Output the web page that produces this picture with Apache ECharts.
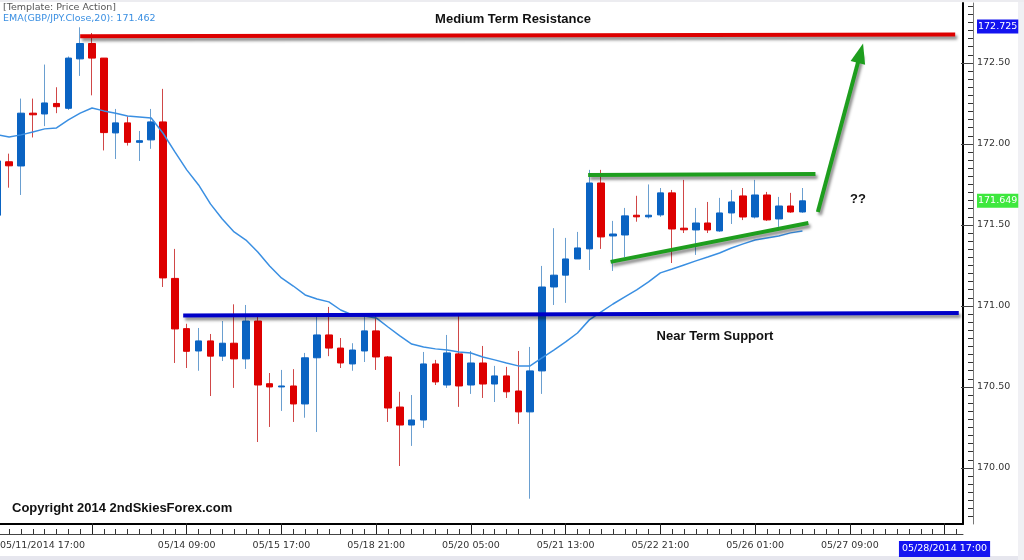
<!DOCTYPE html>
<html><head><meta charset="utf-8">
<script src="https://cdn.jsdelivr.net/npm/echarts@6/dist/echarts.min.js"></script>
<style>html,body{margin:0;padding:0;background:#fff}#c{width:1024px;height:560px}</style>
</head><body><div id="c"></div>
<script>
// GBP/JPY 4-hour candles (bar index 0 = 05/11/2014 17:00)
const opens  = [171.56,171.89,171.864,172.19,172.185,172.25,172.22,172.525,172.62,172.53,172.068,172.13,172.01,172.025,172.136,171.17,170.86,170.722,170.784,170.69,170.77,170.673,170.907,170.52,170.50,170.506,170.395,170.68,170.821,170.74,170.642,170.722,170.846,170.685,170.376,170.265,170.296,170.642,170.512,170.704,170.512,170.648,170.518,170.568,170.475,170.346,170.599,171.117,171.19,171.29,171.352,171.759,171.432,171.438,171.56,171.55,171.562,171.698,171.48,171.469,171.512,171.463,171.574,171.679,171.549,171.685,171.537,171.617,171.58];
const highs  = [171.93,171.94,172.28,172.28,172.49,172.35,172.54,172.72,172.685,172.53,172.216,172.17,172.08,172.216,172.34,171.352,170.89,170.864,170.827,170.907,171.01,171.006,170.932,170.586,170.605,170.61,170.71,170.932,170.994,170.802,170.77,170.944,170.944,170.69,170.47,170.45,170.716,170.667,170.821,170.944,170.722,170.753,170.63,170.624,170.722,170.747,171.247,171.48,171.42,171.457,171.84,171.84,171.525,171.605,171.68,171.75,171.728,171.716,171.778,171.605,171.642,171.667,171.716,171.728,171.778,171.704,171.673,171.698,171.728];
const lows   = [171.53,171.73,171.685,172.04,172.11,172.19,172.21,172.42,172.30,171.96,171.907,171.99,171.895,171.97,171.117,170.648,170.617,170.60,170.444,170.66,170.494,170.611,170.16,170.253,170.352,170.284,170.31,170.222,170.69,170.617,170.60,170.654,170.605,170.284,170.012,170.136,170.247,170.512,170.494,170.377,170.457,170.432,170.407,170.432,170.272,169.81,170.457,171.006,171.019,171.29,171.222,171.352,171.216,171.302,171.52,171.54,171.55,171.265,171.45,171.315,171.45,171.457,171.506,171.53,171.54,171.525,171.488,171.575,171.575];
const closes = [171.895,171.865,172.19,172.18,172.253,172.23,172.53,172.62,172.53,172.07,172.13,172.01,172.02,172.136,171.173,170.858,170.72,170.784,170.69,170.77,170.673,170.907,170.512,170.50,170.506,170.395,170.68,170.821,170.74,170.648,170.728,170.846,170.685,170.37,170.265,170.296,170.642,170.531,170.71,170.506,170.648,170.518,170.568,170.47,170.346,170.599,171.117,171.19,171.29,171.358,171.759,171.426,171.444,171.556,171.55,171.56,171.698,171.475,171.47,171.512,171.469,171.574,171.642,171.549,171.685,171.531,171.617,171.58,171.649];
const ema20  = [172.056,172.043,172.056,172.074,172.093,172.099,172.148,172.19,172.222,172.204,172.19,172.173,172.167,172.16,172.066,171.951,171.84,171.747,171.63,171.537,171.457,171.407,171.333,171.247,171.173,171.123,171.068,171.043,171.025,170.975,170.944,170.938,170.926,170.87,170.815,170.765,170.747,170.735,170.728,170.716,170.71,170.685,170.667,170.648,170.63,170.63,170.679,170.728,170.778,170.833,170.914,170.963,171.012,171.056,171.099,171.148,171.204,171.228,171.253,171.278,171.302,171.327,171.358,171.383,171.407,171.42,171.432,171.451,171.462];
// one label per major tick (every 8 bars)
const majorTickLabels = ['05/11/2014 17:00','','05/14 09:00','05/15 17:00','05/18 21:00','05/20 05:00','05/21 13:00','05/22 21:00','05/26 01:00','05/27 09:00','05/28/2014 17:00'];
const priceTickLabels = [170.00,170.50,171.00,171.50,172.00,172.50];
const highlightResistance = 172.725;
const highlightLast = 171.649;
const emaLast = 171.462;
// annotation lines, in [bar index, price]
const resistanceLine = [[7,172.665],[80.9,172.675]];
const supportLine    = [[15.7,170.941],[81.2,170.957]];
const flagTop        = [[49.9,171.809],[69.1,171.815]];
const flagBottom     = [[51.8,171.272],[68.5,171.512]];
const breakoutArrow  = [[69.3,171.58],[72.9,172.56]];

const XMIN = 0.228, XMAX = 81.56, SLOTS = 82, PER_MAJOR = 8, YMIN = 169.654, YMAX = 172.870;
const candleData = opens.map((o, i) => [i, o, closes[i], lows[i], highs[i]]);
const bodyData = opens.map((o, i) => [i, o, closes[i], Math.min(o, closes[i]), Math.max(o, closes[i])]);
const emaData = ema20.map((v, i) => [i, v]);
const xMinor = [], xMajor = [], xLabelPos = [XMIN];  // first label starts at the left edge of the plot
for (let i = 1; i < SLOTS; i++) { xMinor.push(i); if (i % PER_MAJOR === 0) { xMajor.push(i); if (majorTickLabels[i / PER_MAJOR]) xLabelPos.push(i); } }
const yMinor = []; for (let k = 0; k <= 63; k++) yMinor.push(+(169.70 + k * 0.05).toFixed(2));

const FONT = 'DejaVu Sans';
const FS = 9.5;
const lbl = {fontFamily: FONT, fontSize: FS, color: '#333'};

function annot(coords, color, width, arrow) {
  return {
    type: 'line', data: [], xAxisIndex: 0, yAxisIndex: 0, silent: true,
    markLine: {
      silent: true, animation: false,
      symbol: arrow ? ['none', 'triangle'] : ['none', 'none'],
      symbolSize: arrow ? [15, 20] : 0,
      label: {show: false},
      emphasis: {disabled: true},
      lineStyle: {color: color, width: width, type: 'solid', opacity: 1,
        shadowColor: 'rgba(0,0,0,0.45)', shadowBlur: 3, shadowOffsetX: 2, shadowOffsetY: 3},
      itemStyle: {color: color, shadowColor: 'rgba(0,0,0,0.45)', shadowBlur: 3, shadowOffsetX: 2, shadowOffsetY: 3},
      data: [[{coord: coords[0]}, {coord: coords[1]}]]
    }
  };
}
const xBase = {type: 'value', min: XMIN, max: XMAX, position: 'bottom', splitLine: {show: false}};

const chart = echarts.init(document.getElementById('c'), null, {renderer: 'canvas'});
chart.setOption({
  animation: false,
  backgroundColor: '#ffffff',
  grid: {left: 0, right: 61, top: 3, bottom: 36, containLabel: false, outerBoundsMode: 'none'},
  xAxis: [
    Object.assign({}, xBase, {
     axisLine: {show: true, onZero: false, lineStyle: {color: '#000', width: 2}}, axisTick: {show: false}, axisLabel: {show: false}}),
    Object.assign({}, xBase, {offset: 10,
     axisLine: {show: true, onZero: false, lineStyle: {color: '#444', width: 1}},
     axisTick: {show: true, inside: true, length: 5, customValues: xMinor, lineStyle: {color: '#333'}},
     axisLabel: Object.assign({}, lbl, {margin: 7, alignMinLabel: 'left', customValues: xLabelPos, showMinLabel: true, showMaxLabel: true,
       formatter: v => {
         const k = Math.round(v / PER_MAJOR);
         const t = majorTickLabels[k] || '';
         return k === majorTickLabels.length - 1 ? '{hl|' + t + '}' : t;
       },
       rich: {hl: {fontFamily: FONT, fontSize: FS, color: '#fff', backgroundColor: '#1414f0', padding: [3, 3, 3, 3]}}})}),
    Object.assign({}, xBase, {offset: 10,
     axisLine: {show: false, onZero: false}, axisTick: {show: true, inside: true, length: 11, customValues: xMajor, lineStyle: {color: '#222'}},
     axisLabel: {show: false}})
  ],
  yAxis: [
    {type: 'value', position: 'right', min: YMIN, max: YMAX,
     axisLine: {show: true, onZero: false, lineStyle: {color: '#000', width: 2}}, axisTick: {show: false}, axisLabel: {show: false}, splitLine: {show: false}},
    {type: 'value', position: 'right', offset: 10, min: YMIN, max: YMAX,
     axisLine: {show: true, onZero: false, lineStyle: {color: '#777', width: 1}},
     axisTick: {show: true, inside: true, length: 5, customValues: yMinor, lineStyle: {color: '#333'}},
     axisLabel: Object.assign({}, lbl, {margin: 4,
       customValues: priceTickLabels.concat([highlightResistance, highlightLast]),
       formatter: v => {
         if (Math.abs(v - highlightResistance) < 1e-6) return '{b|' + highlightResistance.toFixed(3) + '}';
         if (Math.abs(v - highlightLast) < 1e-6) return '{g|' + highlightLast.toFixed(3) + '}';
         return v.toFixed(2);
       },
       rich: {
         b: {fontFamily: FONT, fontSize: FS, color: '#fff', backgroundColor: '#1414f0', padding: [2, 1, 2, 1]},
         g: {fontFamily: FONT, fontSize: FS, color: '#fff', backgroundColor: '#3ee83e', padding: [2, 1, 2, 1]}
       }}),
     splitLine: {show: false}},
    {type: 'value', position: 'right', offset: 10, min: YMIN, max: YMAX,
     axisLine: {show: false, onZero: false},
     axisTick: {show: true, inside: true, length: 12, customValues: priceTickLabels, lineStyle: {color: '#444'}},
     axisLabel: {show: false}, splitLine: {show: false}}
  ],
  series: [
    {type: 'candlestick', name: 'wicks', data: candleData, xAxisIndex: 0, yAxisIndex: 0, barWidth: 1, silent: true,
     itemStyle: {color: '#6a9fd0', color0: '#d04848', borderColor: '#6a9fd0', borderColor0: '#d04848', borderWidth: 1}},
    {type: 'candlestick', name: 'bodies', data: bodyData, xAxisIndex: 0, yAxisIndex: 0, barWidth: 7, silent: true,
     itemStyle: {color: '#0a63c2', color0: '#dd0000', borderColor: '#0a63c2', borderColor0: '#dd0000', borderWidth: 1}},
    {type: 'line', name: 'EMA20', data: emaData, xAxisIndex: 0, yAxisIndex: 0, showSymbol: false, silent: true, clip: false,
     lineStyle: {color: '#3a8fe2', width: 1.5}, z: 3},
    annot(resistanceLine, '#dd0000', 4, false),
    annot(supportLine, '#0000c8', 4, false),
    annot(flagTop, '#1e9e1e', 4, false),
    annot(flagBottom, '#1e9e1e', 4, false),
    annot(breakoutArrow, '#1e9e1e', 4, true)
  ],
  graphic: [
    {type: 'rect', left: 0, top: 556, shape: {width: 1024, height: 4}, style: {fill: '#e6e6ee'}, silent: true},
    {type: 'rect', left: 1018, top: 0, shape: {width: 6, height: 560}, style: {fill: '#f0f0f4'}, silent: true},
    {type: 'rect', left: 0, top: 0, shape: {width: 1024, height: 2}, style: {fill: '#ececf0'}, silent: true},
    {type: 'text', x: 3, y: 8, style: {text: '[Template: Price Action]', fontFamily: FONT, fontSize: FS, fill: '#555', verticalAlign: 'middle'}},
    {type: 'text', x: 3, y: 19, style: {text: 'EMA(GBP/JPY.Close,20): ' + emaLast.toFixed(3), fontFamily: FONT, fontSize: FS, fill: '#3a8fe2', verticalAlign: 'middle'}},
    {type: 'text', x: 513, y: 19, style: {text: 'Medium Term Resistance', fontFamily: 'Liberation Sans', fontWeight: 'bold', fontSize: 13, fill: '#111', align: 'center', verticalAlign: 'middle'}},
    {type: 'text', x: 715, y: 336, style: {text: 'Near Term Support', fontFamily: 'Liberation Sans', fontWeight: 'bold', fontSize: 13, fill: '#111', align: 'center', verticalAlign: 'middle'}},
    {type: 'text', x: 858, y: 199, style: {text: '??', fontFamily: 'Liberation Sans', fontWeight: 'bold', fontSize: 13, fill: '#111', align: 'center', verticalAlign: 'middle'}},
    {type: 'text', x: 12, y: 508, style: {text: 'Copyright 2014 2ndSkiesForex.com', fontFamily: 'Liberation Sans', fontWeight: 'bold', fontSize: 13, fill: '#111', verticalAlign: 'middle'}}
  ]
});
</script></body></html>
